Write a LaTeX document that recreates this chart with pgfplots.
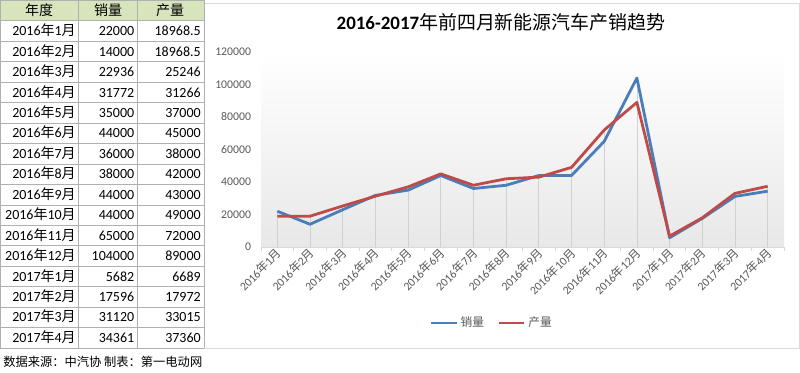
\documentclass[border=0pt]{standalone}
\usepackage{fontspec}
\setmainfont{Carlito}
\newfontfamily\cjk{Noto Sans CJK SC}
\usepackage{pgfplots}
\pgfplotsset{compat=1.18}
\usepackage{pgfplotstable}
\definecolor{sblue}{HTML}{4A7EBB}
\definecolor{sred}{HTML}{BE4B48}
\definecolor{tgray}{HTML}{595959}
\definecolor{hdr}{HTML}{D8E4BC}
\definecolor{gline}{HTML}{B0B0B0}
\definecolor{fgray}{HTML}{D9D9D9}
\newcommand\nian{{\cjk 年}}
\newcommand\yue{{\cjk 月}}
\newcommand\tabfont{\fontsize{10.5}{12}\selectfont}
\newcommand\tickfont{\fontsize{8.8}{10}\selectfont}

\pgfplotstableread{
i s p
0 22000 18968.5
1 14000 18968.5
2 22936 25246
3 31772 31266
4 35000 37000
5 44000 45000
6 36000 38000
7 38000 42000
8 44000 43000
9 44000 49000
10 65000 72000
11 104000 89000
12 5682 6689
13 17596 17972
14 31120 33015
15 34361 37360
}\data

\begin{document}
\begin{tikzpicture}
\begin{scope}[x=0.75pt,y=-0.75pt]
\useasboundingbox (0,0) rectangle (800,372);
\fill[white] (0,0) rectangle (800,372);
% chart frame
\draw[fgray, line width=0.75pt] (204,3) rectangle (799.4,348);
% table
\fill[hdr] (0.5,0.5) rectangle (204,20.5);
\foreach \k in {0,...,17} {
  \draw[gline, line width=0.6pt] (0.4,{0.4+20.45*\k}) -- (204,{0.4+20.45*\k});
}
\foreach \xx in {0.5,78.5,137,204} {
  \draw[gline, line width=0.6pt] (\xx,0.4) -- (\xx,348);
}
\node[anchor=base, inner sep=0, font=\tabfont\cjk] at (39,15.2) {年度};
\node[anchor=base, inner sep=0, font=\tabfont\cjk] at (108,15.2) {销量};
\node[anchor=base, inner sep=0, font=\tabfont\cjk] at (170,15.2) {产量};
\foreach \lab/\s/\p [count=\k] in {
  2016\nian1\yue/22000/18968.5,
  2016\nian2\yue/14000/18968.5,
  2016\nian3\yue/22936/25246,
  2016\nian4\yue/31772/31266,
  2016\nian5\yue/35000/37000,
  2016\nian6\yue/44000/45000,
  2016\nian7\yue/36000/38000,
  2016\nian8\yue/38000/42000,
  2016\nian9\yue/44000/43000,
  2016\nian10\yue/44000/49000,
  2016\nian11\yue/65000/72000,
  2016\nian12\yue/104000/89000,
  2017\nian1\yue/5682/6689,
  2017\nian2\yue/17596/17972,
  2017\nian3\yue/31120/33015,
  2017\nian4\yue/34361/37360} {
  \node[anchor=base east, inner sep=0, font=\tabfont] at (76,{20.45*\k+10.6+4.6}) {\lab};
  \node[anchor=base east, inner sep=0, font=\tabfont] at (134.5,{20.45*\k+10.6+4.6}) {\s};
  \node[anchor=base east, inner sep=0, font=\tabfont] at (201,{20.45*\k+10.6+4.6}) {\p};
}
% footer
\node[anchor=base west, inner sep=0, font={\fontsize{9.2}{11}\selectfont\cjk}] at (3,366.5) {数据来源：中汽协 制表：第一电动网};
% title
\node[anchor=base, inner sep=0, font={\fontsize{14.2}{16}\selectfont}] at (501,29.5) {\textbf{2016-2017}{\cjk 年前四月新能源汽车产销趋势}};
\end{scope}

\begin{axis}[
  at={(195.75pt,-185.25pt)}, anchor=south west,
  scale only axis, width=392.25pt, height=146.25pt,
  xmin=-0.5, xmax=15.5, ymin=0, ymax=120000,
  axis x line*=bottom, axis y line*=left,
  x axis line style={-, draw=fgray, line width=0.75pt},
  y axis line style={draw=none},
  xtick={0,...,15},
  xticklabels={2016\nian1\yue,2016\nian2\yue,2016\nian3\yue,2016\nian4\yue,2016\nian5\yue,2016\nian6\yue,2016\nian7\yue,2016\nian8\yue,2016\nian9\yue,2016\nian10\yue,2016\nian11\yue,2016\nian12\yue,2017\nian1\yue,2017\nian2\yue,2017\nian3\yue,2017\nian4\yue},
  minor xtick={-0.5,0.5,...,15.5},
  ytick={0,20000,40000,60000,80000,100000,120000},
  yticklabels={0,20000,40000,60000,80000,100000,120000},
  major tick length=0pt, minor tick length=3pt, tick align=outside,
  every minor tick/.append style={fgray, line width=0.75pt},
  scaled y ticks=false,
  ticklabel style={font=\tickfont, text=tgray},
  xticklabel style={rotate=45, anchor=east, inner sep=1pt, yshift=-3pt},
  yticklabel style={xshift=-4pt},
  axis background/.style={top color=white, bottom color=black!9},
  legend style={draw=none, fill=none, at={(0.442,-0.39)}, anchor=center,
    font={\tickfont\cjk}, text=tgray, legend columns=2,
    /tikz/every even column/.append style={column sep=8pt}},
  legend image code/.code={\draw[#1] (0pt,0pt) -- (19pt,0pt);},
]
\addplot[ycomb, black!18, line width=0.6pt, forget plot] table[x=i,y=s] {\data};
\addplot[ycomb, black!18, line width=0.6pt, forget plot] table[x=i,y=p] {\data};
\addplot[sblue, line width=2.1pt, line join=round] table[x=i,y=s] {\data};
\addlegendentry{销量}
\addplot[sred, line width=2.1pt, line join=round] table[x=i,y=p] {\data};
\addlegendentry{产量}
\end{axis}
\end{tikzpicture}
\end{document}
